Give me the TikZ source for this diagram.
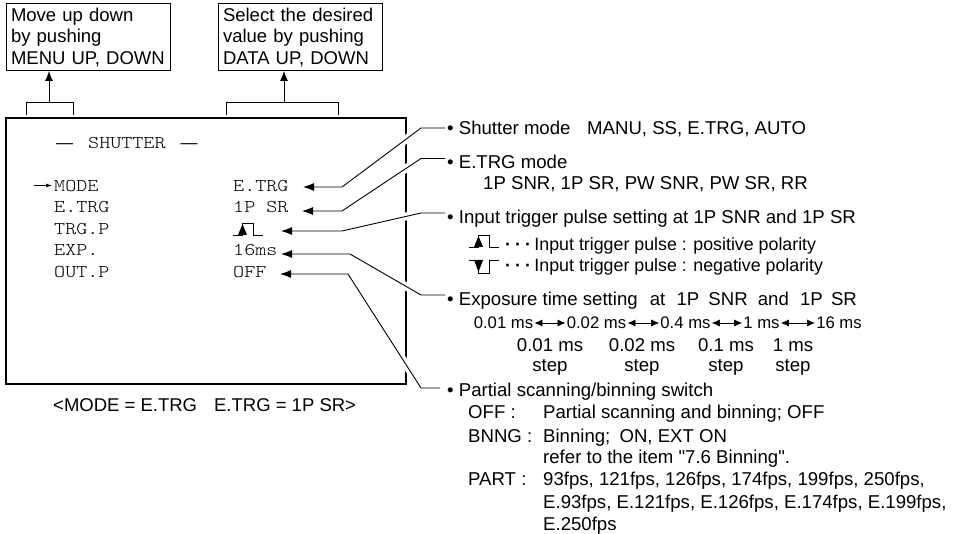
\documentclass[tikz,border=0pt]{standalone}
\usepackage{fontspec}
\setmainfont{Liberation Sans}
\newfontfamily\quotefont{Liberation Sans}
\setmonofont[FakeStretch=1.17]{Latin Modern Mono Light}
\usetikzlibrary{arrows.meta}
\newcommand{\dotrow}{\textbf{·}\hspace{4pt}\textbf{·}\hspace{4pt}\textbf{·}\hspace{3.5pt}}
\tikzset{
    note/.style={draw, line width=0.9pt, inner xsep=5pt, inner ysep=0pt, minimum height=67pt, text width=154pt, align=left, font=\fontsize{18.5}{21.5}\selectfont},
    txt/.style={anchor=west, inner ysep=0pt, inner xsep=2pt, text height=13pt, text depth=0pt, font=\fontsize{18.6}{20}\selectfont},
    pol/.style={txt, font=\fontsize{17.8}{20}\selectfont},
    small/.style={anchor=center, inner xsep=1pt, inner ysep=0pt, text height=12pt, text depth=0pt, font=\fontsize{16.7}{18}\selectfont},
    menu/.style={anchor=base west, inner sep=0pt, font=\fontsize{18}{20}\ttfamily},
    conn/.style={line width=0.9pt, -{Latex[length=11pt,width=8pt]}, preaction={draw=white, line width=8pt, -}},
    both/.style={line width=0.8pt, {Latex[length=8pt,width=7pt]}-{Latex[length=8pt,width=7pt]}},
    pulsepos/.pic={
        \draw[line width=0.7pt] (0,0) -- (9,0) -- (9,-12) -- (20,-12) -- (20,0) -- (30,0);
        \fill (5,0) -- (14,0) -- (9.5,-11) -- cycle;
    },
    pulseneg/.pic={
        \draw[line width=0.7pt] (0,0) -- (9,0) -- (9,13) -- (20,13) -- (20,0) -- (30,0);
        \fill (5,0) -- (14,0) -- (9.5,12) -- cycle;
    }
}
\begin{document}
\begin{tikzpicture}[x=1pt, y=-1pt]
        \useasboundingbox (0,0) rectangle (956,534);

        % Draw the two boxes on top with their brackets
        \node[note] (boxmenu) at (88,37) {Move up down\\by pushing\\MENU UP, DOWN};
        \node[note] (boxdata) at (300,37) {Select the desired\\value by pushing\\DATA UP, DOWN};
        \coordinate (brmenu) at (49,102);
        \coordinate (brdata) at (284,102);
        \draw[line width=0.8pt] (26,115) -- (26,102) -- (73,102) -- (73,115);
        \draw[line width=0.8pt] (226,115) -- (226,102) -- (338,102) -- (338,115);
        \draw[line width=0.8pt, -{Latex[length=10pt,width=8pt]}] (brmenu) -- (boxmenu.south -| brmenu);
        \draw[line width=0.8pt, -{Latex[length=10pt,width=8pt]}] (brdata) -- (boxdata.south -| brdata);

        % Draw the screen
        \node[draw, line width=1.6pt, minimum width=400pt, minimum height=266pt, inner sep=0pt] (screen) at (206,251) {};
        \node[menu] (title) at (56,149) {{\rmfamily\fontsize{17}{20}\selectfont —}\hspace{15pt}SHUTTER\hspace{15pt}{\rmfamily\fontsize{17}{20}\selectfont —}};
        \coordinate (cursor) at (34,185.5);
        \node[menu] (keymode) at (54,192) {MODE};
        \node[menu] (keytrg) at (54,213) {E.TRG};
        \node[menu] (keypulse) at (54,235) {TRG.P};
        \node[menu] (keyexp) at (54,256) {EXP.};
        \node[menu] (keyout) at (54,278) {OUT.P};
        \node[menu] (valmode) at (233,192) {E.TRG};
        \node[menu] (valtrg) at (233,213) {1P SR};
        \pic at (233,235) {pulsepos};
        \node[menu] (valexp) at (233,256) {16ms};
        \node[menu] (valout) at (233,278) {OFF};
        \draw[line width=0.7pt, shorten >=2pt, -{Latex[length=6pt,width=4pt]}] (cursor) -- (keymode.west |- cursor);
        \node[anchor=base west, inner sep=0pt, font=\fontsize{18.5}{20}\selectfont] (caption) at (53,412) {<MODE = E.TRG\hspace{17pt}E.TRG = 1P SR>};

        % Draw the text on the right
        \node[txt] (labmode) at (445,128) {• Shutter mode};
        \node[txt] (modelist) at (585,128) {MANU, SS, E.TRG, AUTO};
        \node[txt] (labtrg) at (445,162) {• E.TRG mode};
        \node[txt] (trglist) at (481,183) {1P SNR, 1P SR, PW SNR, PW SR, RR};
        \node[txt] (labpulse) at (445,217) {• Input trigger pulse setting at 1P SNR and 1P SR};
        \pic at (469,247) {pulsepos};
        \node[pol] (lineup) at (503,244) {\dotrow Input trigger pulse : positive polarity};
        \pic at (469,260) {pulseneg};
        \node[pol] (linedown) at (503,265) {\dotrow Input trigger pulse : negative polarity};
        \node[txt] (labexp) at (445,299) {• Exposure time setting\hspace{7pt} at\hspace{6pt} 1P\hspace{4pt} SNR\hspace{5pt} and\hspace{6pt} 1P\hspace{3pt} SR};

        % Draw the exposure times and steps
        \node[small] (time1) at (503.5,323) {0.01 ms};
        \node[small] (time2) at (596.5,323) {0.02 ms};
        \node[small] (time3) at (685.5,323) {0.4 ms};
        \node[small] (time4) at (761.5,323) {1 ms};
        \node[small] (time5) at (839,323) {16 ms};
        \draw[both] (time1) -- (time2);
        \draw[both] (time2) -- (time3);
        \draw[both] (time3) -- (time4);
        \draw[both] (time4) -- (time5);
        \node[txt, anchor=center] at (550,345) {0.01 ms};
        \node[txt, anchor=center] at (642,345) {0.02 ms};
        \node[txt, anchor=center] at (726,345) {0.1 ms};
        \node[txt, anchor=center] at (793,345) {1 ms};
        \node[txt, anchor=center] at (550,365) {step};
        \node[txt, anchor=center] at (642,365) {step};
        \node[txt, anchor=center] at (726,365) {step};
        \node[txt, anchor=center] at (793,365) {step};

        % Draw the last group
        \node[txt] (labout) at (445,390) {• Partial scanning/binning switch};
        \node[txt] at (466,412) {OFF :};
        \node[txt] at (541,412) {Partial scanning and binning; OFF};
        \node[txt] at (466,436) {BNNG :};
        \node[txt] at (541,436) {Binning;\hspace{4pt} ON, EXT ON};
        \node[txt] at (541,457) {refer to the item {\quotefont "}7.6 Binning{\quotefont "}.};
        \node[txt] at (466,479) {PART :};
        \node[txt] at (541,479) {93fps, 121fps, 126fps, 174fps, 199fps, 250fps,};
        \node[txt] at (541,502) {E.93fps, E.121fps, E.126fps, E.174fps, E.199fps,};
        \node[txt] at (541,524) {E.250fps};

        % Draw the connectors
        \coordinate (tipmode) at (303,187);
        \coordinate (tiptrg) at (302,211);
        \coordinate (tippulse) at (281,231);
        \coordinate (tipexp) at (281,254);
        \coordinate (tipout) at (280,274);
        \draw[conn] (labmode.west) -- (421,128) -- (342,187) -- (tipmode);
        \draw[conn] ([yshift=3.5pt]labtrg.west) -- (421,158.5) -- (342,211) -- (tiptrg);
        \draw[conn] ([yshift=4pt]labpulse.west) -- (421,213) -- (342,231) -- (tippulse);
        \draw[conn] ([yshift=4pt]labexp.west) -- (421,295) -- (350,254) -- (tipexp);
        \draw[conn] ([yshift=2pt, xshift=-5pt]labout.west) -- (421,388) -- (348,274) -- (tipout);
    \end{tikzpicture}
\end{document}
